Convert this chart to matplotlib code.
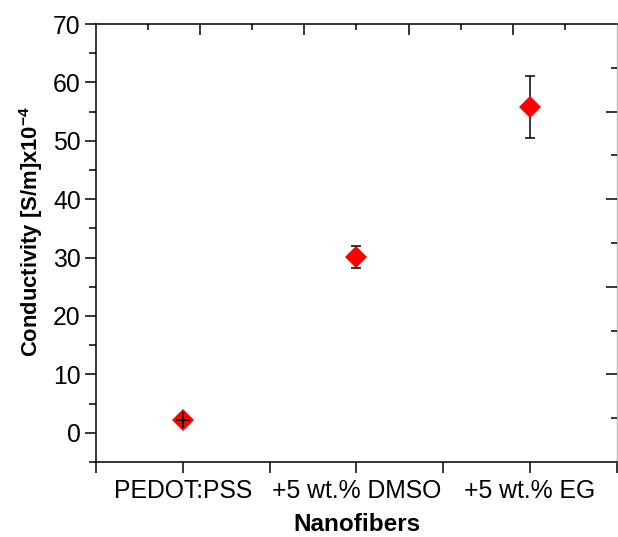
import matplotlib
matplotlib.use("Agg")
import matplotlib.pyplot as plt

plt.rcParams["font.family"] = ["Liberation Sans", "DejaVu Sans"]
plt.rcParams["mathtext.fontset"] = "custom"
plt.rcParams["mathtext.rm"] = "Liberation Sans"
plt.rcParams["mathtext.bf"] = "Liberation Sans:bold"

# data
samples = ["PEDOT:PSS", "+5 wt.% DMSO", "+5 wt.% EG"]
conductivity = [2.2, 30.1, 55.8]
cond_err = [1.3, 1.9, 5.3]
positions = [1, 2, 3]

fig = plt.figure(figsize=(6.18, 5.37), dpi=100, facecolor="white")
ax = fig.add_axes([0.1553, 0.1397, 0.8430, 0.8156])

# error bars under the markers, markers on top
ax.errorbar(positions[1:], conductivity[1:], yerr=cond_err[1:], fmt="none", ecolor="black",
            elinewidth=1.1, capsize=3.6, capthick=1.1, zorder=2)
ax.plot(positions, conductivity, linestyle="none", marker="D", ms=11,
        color="#ff0000", markeredgewidth=0, zorder=3)
# the smallest bar sits inside its marker and shows through as a cross
ax.errorbar(positions[0], conductivity[0], yerr=cond_err[0], xerr=0.04,
            fmt="none", ecolor="black", elinewidth=1.3, capsize=0, zorder=4)

ax.set_xlim(0.5, 3.5)
ax.set_ylim(-5, 70)

ax.set_xticks([0.5, 1, 1.5, 2, 2.5, 3, 3.5])
ax.set_xticklabels(["", samples[0], "", samples[1], "", samples[2], ""])
ax.set_yticks(range(0, 80, 10))
ax.set_yticks(range(-5, 70, 10), minor=True)
ax.tick_params(axis="both", which="major", direction="out", length=8, width=1.1,
               labelsize=17.8, pad=3, colors="black")
ax.tick_params(axis="y", which="minor", direction="out", length=5, width=1.1)
ax.tick_params(axis="x", which="major", pad=4)

ax.set_xlabel("Nanofibers", fontsize=17.5, fontweight="bold")
ax.set_ylabel(r"Conductivity [S/m]x10$^{\mathbf{-4}}$", fontsize=15.8,
              fontweight="bold")
ax.xaxis.set_label_coords(0.5, -0.117)
ax.yaxis.set_label_coords(-0.097, 0.525)

for side in ["left", "bottom", "top"]:
    ax.spines[side].set_linewidth(1.1)
    ax.spines[side].set_color("black")
ax.spines["right"].set_linewidth(1.0)
ax.spines["right"].set_color("#bbbbbb")

# top axis with its own inward ticks
top = ax.twiny()
top.set_xlim(ax.get_xlim())
top.set_xticks([1.1, 1.7, 2.3, 2.9])
top.set_xticks([0.8, 1.4, 2.0, 2.6, 3.2], minor=True)
top.tick_params(axis="x", which="major", direction="in", length=8, width=1.1, labeltop=False)
top.tick_params(axis="x", which="minor", direction="in", length=4, width=1.1)

# right axis with its own inward ticks
right = ax.twinx()
right.set_ylim(ax.get_ylim())
right.set_yticks([10, 25, 40, 55])
right.set_yticks([2.5, 17.5, 32.5, 47.5, 62.5], minor=True)
right.tick_params(axis="y", which="major", direction="in", length=8, width=1.1, labelright=False)
right.tick_params(axis="y", which="minor", direction="in", length=4, width=1.1)
for a in (top, right):
    for s in a.spines.values():
        s.set_visible(False)

fig.savefig("out.png", dpi=100, facecolor="white")
